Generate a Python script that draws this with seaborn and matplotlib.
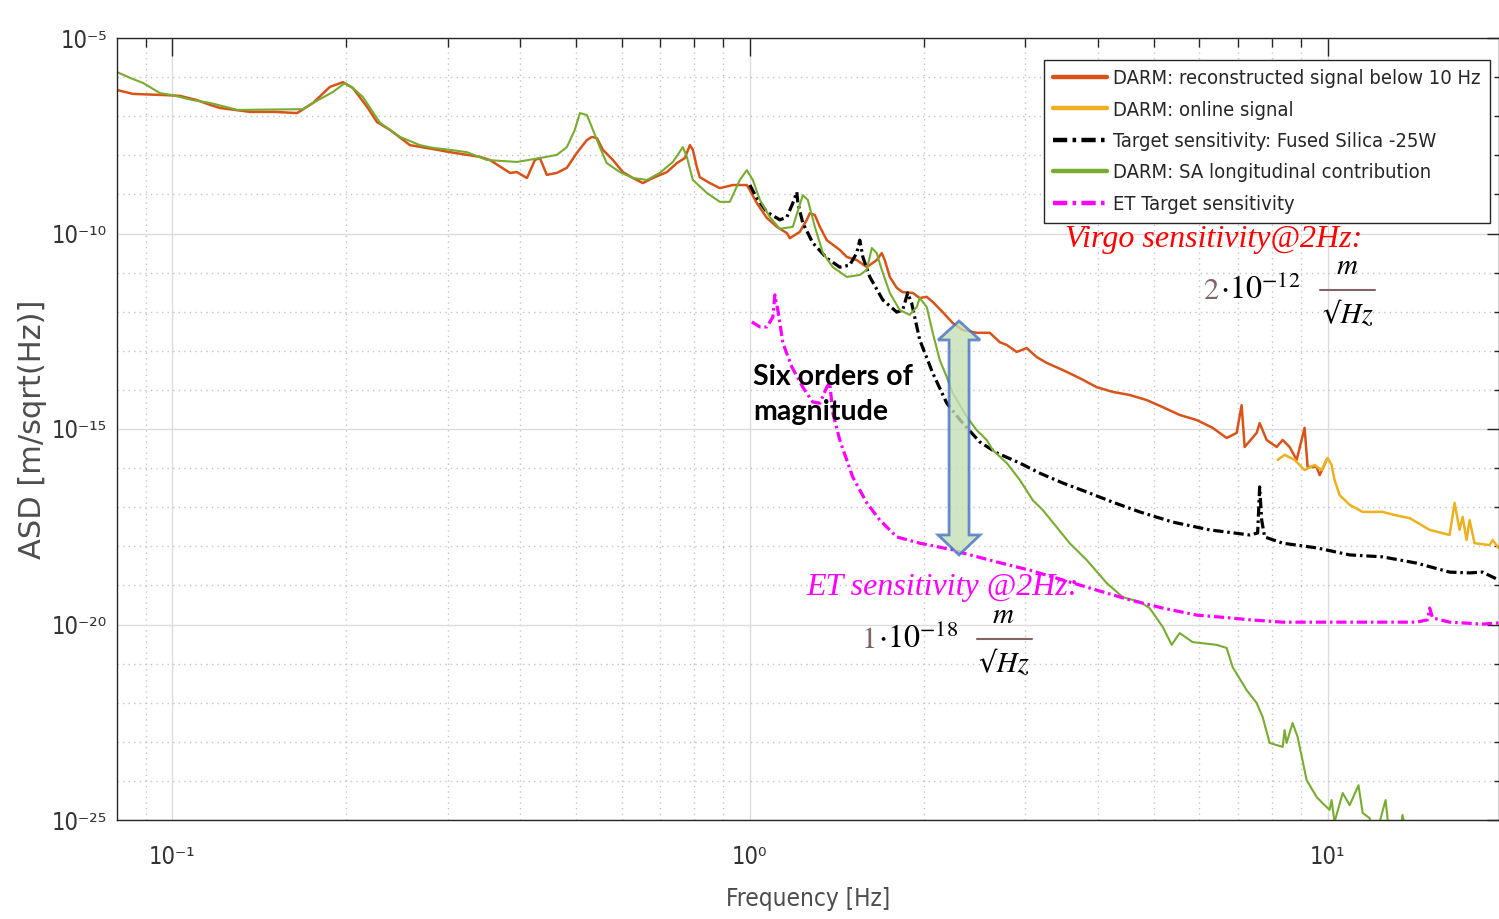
import pandas as pd
import matplotlib
matplotlib.use("Agg")
import matplotlib.pyplot as plt
import seaborn as sns
from matplotlib.font_manager import FontProperties
from matplotlib.patches import Polygon
from matplotlib.lines import Line2D
from matplotlib.ticker import FixedLocator, FixedFormatter, LogLocator, NullFormatter

# Curves: (frequency [Hz], log10 ASD [m/sqrt(Hz)])
darm_reconstructed = [
    (0.0803, -6.33), (0.0856, -6.43), (0.0972, -6.46), (0.1032, -6.48), (0.1105, -6.59),
    (0.1163, -6.71), (0.1211, -6.79), (0.1364, -6.89), (0.1508, -6.89), (0.1646, -6.92),
    (0.1754, -6.66), (0.1876, -6.25), (0.1976, -6.13), (0.2056, -6.28), (0.2175, -6.76),
    (0.2263, -7.15), (0.2383, -7.35), (0.2581, -7.74), (0.2829, -7.84), (0.3027, -7.92),
    (0.3411, -8.04), (0.3549, -8.12), (0.3844, -8.45), (0.3953, -8.43), (0.4114, -8.58),
    (0.4246, -8.12), (0.4331, -8.07), (0.4453, -8.50), (0.4634, -8.45), (0.4823, -8.32),
    (0.5018, -7.94), (0.5224, -7.61), (0.5328, -7.53), (0.5436, -7.56), (0.5568, -7.86),
    (0.5794, -8.12), (0.6030, -8.43), (0.6275, -8.58), (0.6530, -8.71), (0.6796, -8.58),
    (0.7185, -8.43), (0.7477, -8.20), (0.7719, -8.07), (0.7875, -7.74), (0.7969, -7.86),
    (0.8096, -8.30), (0.8193, -8.56), (0.8527, -8.71), (0.8874, -8.84), (0.9345, -8.76),
    (0.9881, -8.76), (1.000, -8.89), (1.028, -9.22), (1.070, -9.60), (1.114, -9.83),
    (1.159, -9.99), (1.173, -10.12), (1.220, -9.96), (1.255, -9.65), (1.270, -9.48),
    (1.296, -9.53), (1.322, -9.83), (1.359, -10.17), (1.431, -10.42), (1.472, -10.60),
    (1.531, -10.68), (1.594, -10.86), (1.658, -10.68), (1.692, -10.50), (1.712, -10.68),
    (1.747, -11.11), (1.796, -11.39), (1.839, -11.50), (1.914, -11.52), (1.968, -11.65),
    (2.024, -11.62), (2.073, -11.75), (2.157, -12.01), (2.245, -12.29), (2.336, -12.47),
    (2.470, -12.54), (2.602, -12.54), (2.708, -12.78), (2.784, -12.85), (2.897, -13.03),
    (3.015, -12.93), (3.137, -13.16), (3.265, -13.31), (3.479, -13.49), (3.724, -13.70),
    (3.984, -13.93), (4.246, -14.05), (4.544, -14.13), (4.862, -14.26), (5.183, -14.44),
    (5.546, -14.64), (5.934, -14.77), (6.324, -14.97), (6.688, -15.23), (6.960, -15.10),
    (7.099, -14.39), (7.185, -15.46), (7.538, -15.10), (7.628, -14.85), (7.843, -15.28),
    (8.162, -15.46), (8.360, -15.28), (8.596, -15.46), (8.840, -15.79), (9.124, -14.97),
    (9.235, -15.97), (9.571, -15.97), (9.687, -16.18), (9.961, -15.79),
]
darm_online = [
    (8.195, -15.79), (8.426, -15.66), (8.769, -15.79), (9.124, -16.05), (9.495, -15.92),
    (9.764, -16.05), (10.00, -15.74), (10.16, -15.92), (10.28, -16.30), (10.49, -16.69),
    (10.92, -16.94), (11.50, -17.12), (12.45, -17.12), (13.06, -17.20), (13.87, -17.28),
    (15.02, -17.58), (16.26, -17.71), (16.59, -16.89), (16.92, -17.58), (17.13, -17.25),
    (17.40, -17.84), (17.61, -17.33), (17.96, -17.92), (19.07, -17.97), (19.30, -17.84),
    (19.77, -18.04),
]
target_fused_silica = [
    (1.000, -8.76), (1.028, -9.09), (1.070, -9.45), (1.127, -9.65), (1.159, -9.58),
    (1.187, -9.22), (1.206, -8.94), (1.211, -9.22), (1.235, -9.73), (1.285, -10.24),
    (1.359, -10.63), (1.431, -10.86), (1.489, -10.81), (1.531, -10.50), (1.550, -10.17),
    (1.569, -10.60), (1.613, -11.11), (1.699, -11.70), (1.796, -12.01), (1.839, -11.96),
    (1.876, -11.52), (1.906, -11.78), (1.968, -12.72), (2.073, -13.57), (2.192, -14.34),
    (2.336, -14.85), (2.500, -15.33), (2.675, -15.61), (2.932, -15.87), (3.176, -16.13),
    (3.479, -16.38), (3.828, -16.61), (4.246, -16.87), (4.729, -17.12), (5.393, -17.38),
    (6.249, -17.58), (7.328, -17.71), (7.568, -17.66), (7.628, -16.48), (7.690, -17.33),
    (7.780, -17.76), (8.360, -17.92), (9.571, -18.04), (10.92, -18.22), (12.45, -18.27),
    (14.26, -18.43), (16.26, -18.66), (17.61, -18.68), (18.54, -18.66), (19.77, -18.86),
]
sa_longitudinal = [
    (0.0803, -5.87), (0.0846, -6.02), (0.0891, -6.15), (0.0953, -6.41), (0.1000, -6.46),
    (0.1087, -6.59), (0.1163, -6.66), (0.1260, -6.79), (0.1296, -6.84), (0.1685, -6.82),
    (0.1754, -6.66), (0.1899, -6.38), (0.1992, -6.15), (0.2056, -6.28), (0.2140, -6.51),
    (0.2291, -7.17), (0.2481, -7.53), (0.2685, -7.74), (0.2829, -7.81), (0.3027, -7.86),
    (0.3238, -7.92), (0.3507, -8.12), (0.3953, -8.17), (0.4331, -8.07), (0.4634, -7.99),
    (0.4823, -7.79), (0.4978, -7.35), (0.5080, -6.92), (0.5224, -6.97), (0.5328, -7.28),
    (0.5500, -7.79), (0.5655, -8.20), (0.5957, -8.43), (0.6275, -8.58), (0.6636, -8.63),
    (0.6988, -8.45), (0.7359, -8.17), (0.7658, -7.79), (0.7781, -8.04), (0.7969, -8.63),
    (0.8424, -8.96), (0.8874, -9.19), (0.9234, -9.19), (0.9610, -8.63), (0.9881, -8.38),
    (1.012, -8.63), (1.041, -9.14), (1.083, -9.58), (1.127, -9.88), (1.187, -9.83),
    (1.235, -9.02), (1.260, -9.14), (1.296, -9.83), (1.338, -10.50), (1.392, -10.86),
    (1.472, -11.11), (1.550, -11.06), (1.594, -10.93), (1.626, -10.37), (1.658, -10.50),
    (1.692, -10.93), (1.747, -11.52), (1.818, -11.96), (1.891, -12.08), (1.945, -11.88),
    (1.968, -11.65), (2.024, -11.88), (2.073, -12.54), (2.132, -13.24), (2.192, -13.67),
    (2.245, -14.08), (2.374, -14.69), (2.470, -15.03), (2.570, -15.28), (2.633, -15.54),
    (2.784, -15.87), (2.932, -16.30), (3.088, -16.82), (3.213, -17.07), (3.397, -17.51),
    (3.577, -17.92), (3.828, -18.35), (4.147, -18.94), (4.419, -19.30), (4.729, -19.42),
    (4.920, -19.58), (5.183, -20.06), (5.372, -20.52), (5.546, -20.22), (5.839, -20.45),
    (6.427, -20.52), (6.688, -20.60), (6.849, -21.09), (7.244, -21.68), (7.538, -22.01),
    (7.721, -22.37), (7.938, -23.03), (8.360, -23.13), (8.426, -22.70), (8.493, -23.03),
    (8.698, -22.52), (8.875, -22.88), (9.199, -23.98), (9.571, -24.41), (9.802, -24.57),
    (10.08, -24.74), (10.16, -24.49), (10.28, -25.05), (10.62, -24.31), (10.92, -24.62),
    (11.31, -24.11), (11.50, -24.82), (11.82, -24.95), (12.11, -25.43), (12.60, -24.49),
    (12.80, -25.43), (13.32, -25.43), (13.48, -24.87), (13.70, -25.43),
]
et_target = [
    (1.008, -12.26), (1.041, -12.39), (1.070, -12.39), (1.096, -12.14), (1.105, -11.57),
    (1.118, -11.96), (1.141, -12.80), (1.182, -13.41), (1.235, -13.93), (1.285, -14.31),
    (1.322, -14.34), (1.359, -13.93), (1.375, -13.82), (1.392, -14.59), (1.431, -15.28),
    (1.507, -16.23), (1.594, -16.89), (1.679, -17.33), (1.796, -17.76), (1.968, -17.92),
    (2.245, -18.09), (2.336, -18.17), (2.675, -18.40), (3.050, -18.61), (3.479, -18.86),
    (3.984, -19.12), (4.544, -19.37), (5.183, -19.58), (5.934, -19.76), (6.768, -19.83),
    (7.328, -19.88), (8.360, -19.94), (10.92, -19.94), (14.26, -19.94), (14.89, -19.88),
    (15.02, -19.58), (15.19, -19.83), (16.26, -19.94), (18.54, -19.99), (19.77, -19.96),
]

series_names = [
    "DARM: reconstructed signal below 10 Hz",
    "DARM: online signal",
    "Target sensitivity: Fused Silica -25W",
    "DARM: SA longitudinal contribution",
    "ET Target sensitivity",
]
series_points = [darm_reconstructed, darm_online, target_fused_silica, sa_longitudinal, et_target]
series_colors = ["#D95319", "#EDB120", "black", "#77AC30", "#FF00FF"]

x_ticks = [0.1, 1, 10]
x_tick_labels = ["10⁻¹", "10⁰", "10¹"]
y_ticks = [1e-25, 1e-20, 1e-15, 1e-10, 1e-5]
y_tick_labels = ["10⁻²⁵", "10⁻²⁰", "10⁻¹⁵", "10⁻¹⁰", "10⁻⁵"]

sns.set_theme(style="white")
plt.rcParams["font.family"] = ["DejaVu Sans"]

cond = dict(family="DejaVu Sans", stretch="condensed")
tick_font = FontProperties(size=17, **cond)
legend_font = FontProperties(size=14.5, **cond)
dash_dot = (0, (3.2, 1.2, 0.8, 1.2))
styles = ["-", "-", dash_dot, "-", dash_dot]
widths = [1.8, 1.8, 2.3, 1.5, 2.3]

fig = plt.figure(figsize=(14.99, 9.19), dpi=100)
ax = fig.add_axes([117 / 1499, 99 / 919, 1382 / 1499, 782 / 919])

for pts, name, color, ls, lw in zip(series_points, series_names, series_colors, styles, widths):
    df = pd.DataFrame(pts, columns=["freq", "log_asd"])
    df["asd"] = 10.0 ** df["log_asd"]
    sns.lineplot(data=df, x="freq", y="asd", ax=ax, color=color, linestyle=ls,
                 linewidth=lw, label=name, sort=False, estimator=None)

ax.set_xscale("log")
ax.set_yscale("log")
ax.set_xlim(0.0803, 19.8)
ax.set_ylim(1e-25, 1e-5)

# ticks, MATLAB style: inside, on all four sides
ax.xaxis.set_major_locator(FixedLocator(x_ticks))
ax.xaxis.set_major_formatter(FixedFormatter(x_tick_labels))
ax.xaxis.set_minor_locator(LogLocator(base=10, subs=range(2, 10), numticks=20))
ax.xaxis.set_minor_formatter(NullFormatter())
ax.yaxis.set_major_locator(FixedLocator(y_ticks))
ax.yaxis.set_major_formatter(FixedFormatter(y_tick_labels))
ax.yaxis.set_minor_locator(LogLocator(base=10, subs=(1.0,), numticks=40))
ax.yaxis.set_minor_formatter(NullFormatter())
ax.tick_params(which="both", direction="in", top=True, right=True, color="#262626")
ax.tick_params(axis="x", which="major", length=13, width=1, pad=18)
ax.tick_params(axis="x", which="minor", length=6.5, width=1)
ax.tick_params(axis="y", which="major", length=8.5, width=1, pad=7)
ax.tick_params(axis="y", which="minor", length=3.6, width=1)
for lab in ax.get_xticklabels() + ax.get_yticklabels():
    lab.set_fontproperties(tick_font)
    lab.set_color("#333333")
for sp in ax.spines.values():
    sp.set_color("#262626")
    sp.set_linewidth(1.0)

ax.grid(True, which="major", color="#dcdcdc", linewidth=1.0, linestyle="-")
ax.grid(True, which="minor", color="#c4c4c4", linewidth=1.0, linestyle=(0, (1, 3)))
ax.set_axisbelow(True)

ax.set_xlabel("Frequency [Hz]", fontproperties=FontProperties(size=17.5, **cond), color="#4d4d4d")
ax.xaxis.set_label_coords(0.5, -0.086)
ax.set_ylabel("ASD [m/sqrt(Hz)]", fontsize=22, color="#4d4d4d")
ax.yaxis.set_label_coords(-0.051, 0.5)

leg = ax.legend(loc="upper right", bbox_to_anchor=(0.9935, 0.9719), prop=legend_font,
                handlelength=2.7, handletextpad=0.3, labelspacing=0.62, borderpad=0.45,
                borderaxespad=0, frameon=True, fancybox=False, edgecolor="#262626",
                framealpha=1)
leg.get_frame().set_linewidth(1.0)
for t in leg.get_texts():
    t.set_color("#262626")
for h in leg.get_lines():
    h.set_linewidth(3.2)

# double-headed arrow between Virgo and ET levels
cx, top, hbt, hbb, bot, hw, sw = 0.6093, 0.6381, 0.6138, 0.3645, 0.3389, 0.0152, 0.00724
arrow = Polygon([(cx, top), (cx + hw, hbt), (cx + sw, hbt), (cx + sw, hbb), (cx + hw, hbb),
                 (cx, bot), (cx - hw, hbb), (cx - sw, hbb), (cx - sw, hbt), (cx - hw, hbt)],
                closed=True, transform=ax.transAxes, facecolor="#C5DFB5", alpha=0.8,
                edgecolor="#4472C4", linewidth=2, zorder=5)
ax.add_patch(arrow)

brown = "#806565"
serif_it = dict(family="Liberation Serif", style="italic", fontsize=23)
math_it = dict(family=["STIXGeneral", "DejaVu Serif"], style="italic", fontsize=21)

ax.text(0.686, 0.7327, "Virgo sensitivity@2Hz:", color="#FF0000", transform=ax.transAxes,
        ha="left", va="baseline", zorder=6, **serif_it)
ax.text(0.7858, 0.6662, "2", color=brown, family="STIXGeneral", fontsize=22,
        transform=ax.transAxes, ha="left", va="baseline", zorder=6)
ax.text(0.798, 0.6662, r"$\cdot10^{-12}$", color="black", math_fontfamily="stix", fontsize=23,
        transform=ax.transAxes, ha="left", va="baseline", zorder=6)
ax.text(0.890, 0.6982, "m", color="black", transform=ax.transAxes, ha="center",
        va="baseline", zorder=6, **math_it)
ax.add_line(Line2D([0.8705, 0.9103], [0.6777, 0.6777], transform=ax.transAxes, color=brown, lw=1.5))
ax.text(0.8907, 0.6355, "√Hz", color="black", transform=ax.transAxes, ha="center",
        va="baseline", zorder=6, **math_it)

ax.text(0.4986, 0.2877, "ET sensitivity @2Hz:", color="#FF00FF", transform=ax.transAxes,
        ha="left", va="baseline", zorder=6, **serif_it)
ax.text(0.5391, 0.2199, "1", color=brown, family="STIXGeneral", fontsize=22,
        transform=ax.transAxes, ha="left", va="baseline", zorder=6)
ax.text(0.5507, 0.2199, r"$\cdot10^{-18}$", color="black", math_fontfamily="stix", fontsize=23,
        transform=ax.transAxes, ha="left", va="baseline", zorder=6)
ax.text(0.6411, 0.2519, "m", color="black", transform=ax.transAxes, ha="center",
        va="baseline", zorder=6, **math_it)
ax.add_line(Line2D([0.6223, 0.6621], [0.2315, 0.2315], transform=ax.transAxes, color=brown, lw=1.5))
ax.text(0.6418, 0.1893, "√Hz", color="black", transform=ax.transAxes, ha="center",
        va="baseline", zorder=6, **math_it)

ax.text(0.4602, 0.5563, "Six orders of", color="black", family="Lato", fontweight="bold",
        fontsize=20.5, transform=ax.transAxes, ha="left", va="baseline", zorder=6)
ax.text(0.4602, 0.5115, "magnitude", color="black", family="Lato", fontweight="bold",
        fontsize=20.5, transform=ax.transAxes, ha="left", va="baseline", zorder=6)

fig.savefig("out.png", dpi=100)
